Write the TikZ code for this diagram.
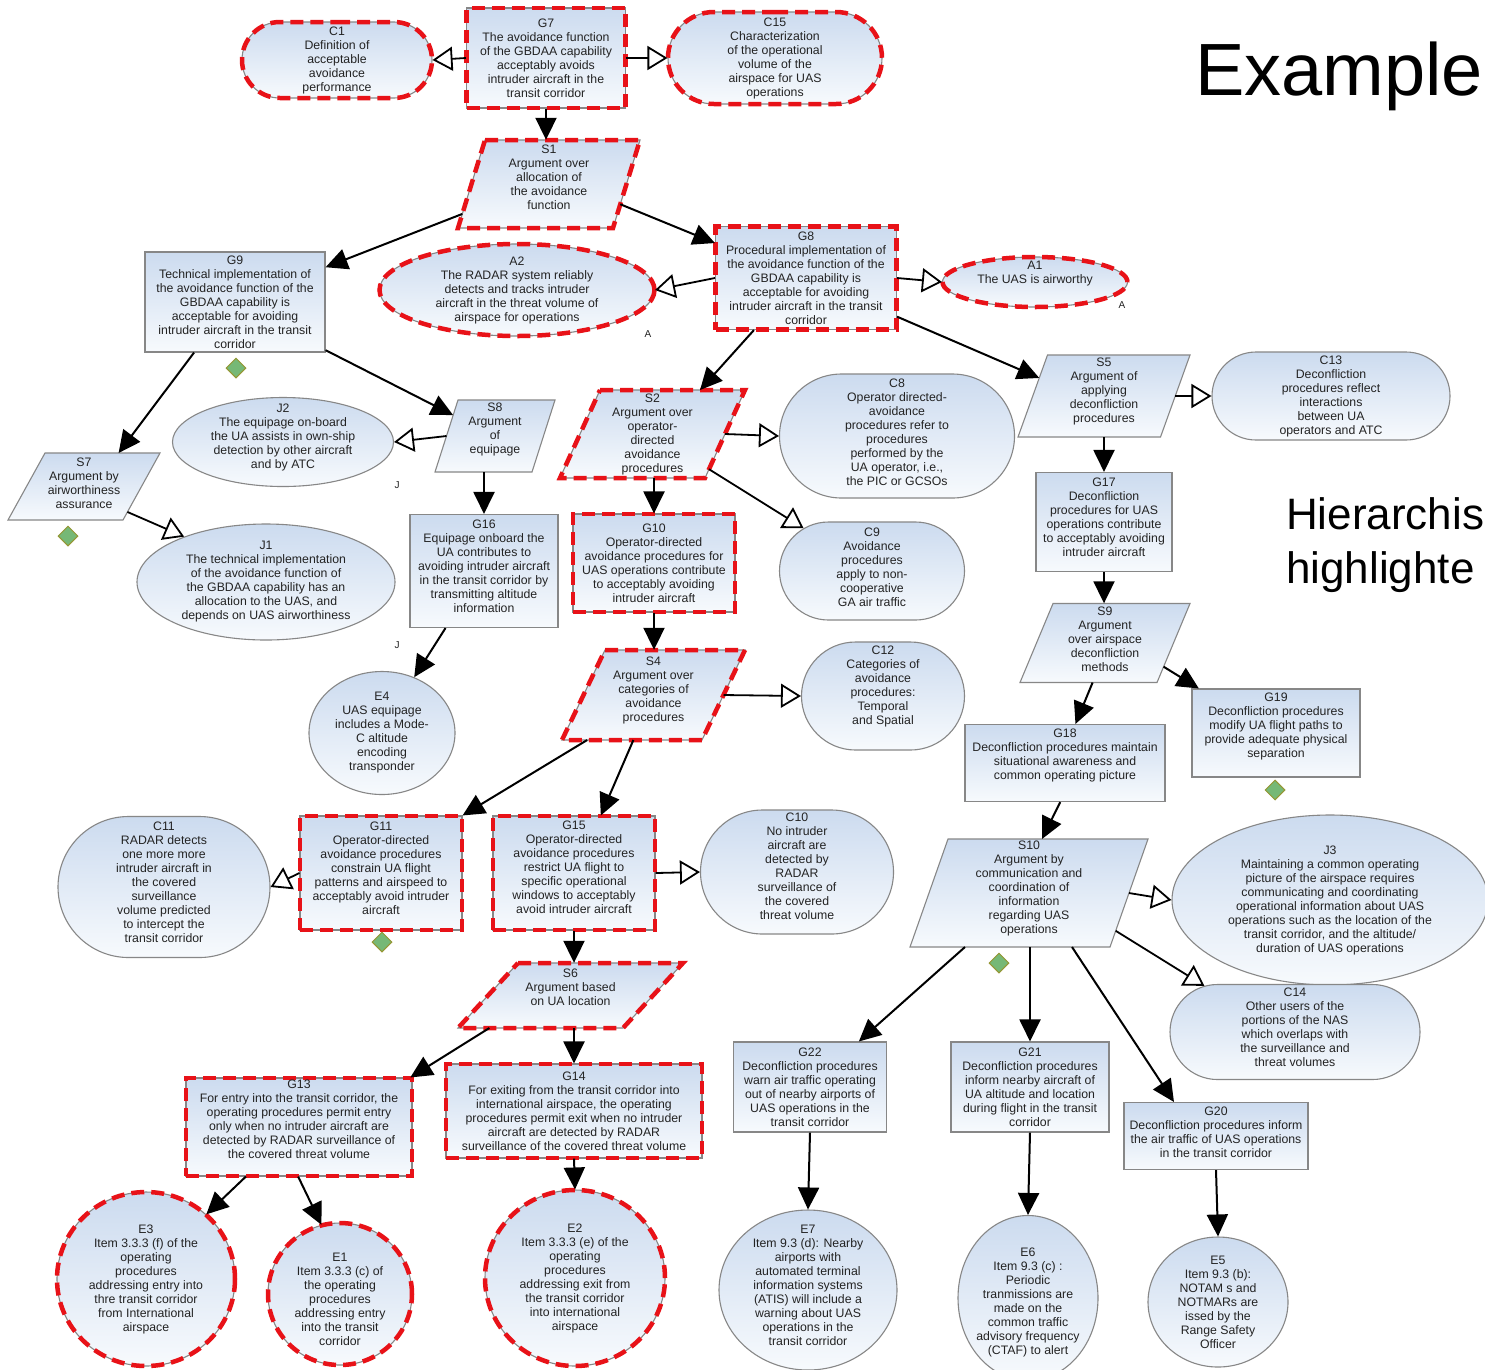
\documentclass[tikz,border=0pt]{standalone}
\usepackage{fontspec}
\setmainfont{Liberation Sans}
\usetikzlibrary{shapes.geometric,shapes.misc,arrows.meta,calc}
\definecolor{hlred}{RGB}{232,18,24}
\definecolor{nodetop}{RGB}{204,219,239}
\definecolor{nodebot}{RGB}{247,250,253}
\definecolor{nodeline}{RGB}{135,135,135}
\definecolor{txtcol}{RGB}{35,35,35}
\definecolor{dfill}{RGB}{118,184,118}
\definecolor{dline}{RGB}{150,150,50}
% shape node (fixed size) + text node; optional arg = upward text shift
\newcommand{\gsnnode}[7][0]{%
  \node[#2, minimum width=#5pt, minimum height=#6pt] (#3) at #4 {};
  \node[txt, yshift=#1pt] (#3t) at (#3) {#7};}
% parallelogram: [up]{style}{name}{x}{y}{w}{h}{slant}{text}
\newcommand{\paranode}[9][5]{%
  \coordinate (#3-tl) at ({#4-#6/2+#8},{#5-#7/2});
  \coordinate (#3-tr) at ({#4+#6/2},{#5-#7/2});
  \coordinate (#3-br) at ({#4+#6/2-#8},{#5+#7/2});
  \coordinate (#3-bl) at ({#4-#6/2},{#5+#7/2});
  \path[base,#2] (#3-tl) -- (#3-tr) -- (#3-br) -- (#3-bl) -- cycle;
  \node[inner sep=0pt, minimum width={#6pt-#8pt}, minimum height=#7pt] (#3) at (#4,#5) {};
  \node[txt, yshift=#1pt] (#3t) at (#3) {#9};}
\begin{document}
\begin{tikzpicture}[x=1pt,y=-1pt,
  txt/.style={align=center, font=\fontsize{12.3}{14}\selectfont, text=txtcol, inner sep=0pt},
  small/.style={font=\fontsize{10}{12}\selectfont, text=txtcol, inner sep=0pt},
  base/.style={draw=nodeline, line width=1.1pt, top color=nodetop, bottom color=nodebot, inner sep=0pt},
  goal/.style={base, rectangle},
  ctx/.style={base, rounded rectangle},
  ell/.style={base, ellipse},
  hl/.style={postaction={draw=hlred, line width=4.5pt, dash pattern=on 13pt off 7pt}},
  undev/.style={diamond, draw=dline, fill=dfill, line width=1pt, minimum size=20pt, inner sep=0pt},
  garrow/.style={-{Triangle[length=22pt,width=21pt]}, line width=2pt},
  carrow/.style={-{Triangle[open,length=20pt,width=24pt]}, line width=1.8pt}]
\useasboundingbox (0,0) rectangle (1485,1369);
\clip (0,0) rectangle (1485,1369);
\fill[white] (0,0) rectangle (1485,1369);

% ---- top
\gsnnode{ctx,hl}{C1}{(337,60)}{190}{76}{C1\\Definition of\\acceptable\\avoidance\\performance}
\gsnnode{goal,hl}{G7}{(546,58)}{159}{100}{G7\\The avoidance function\\of the GBDAA capability\\acceptably avoids\\intruder aircraft in the\\transit corridor}
\gsnnode{ctx,hl}{C15}{(775,58)}{214}{92}{C15\\Characterization\\of the operational\\volume of the\\airspace for UAS\\operations}
\paranode[7]{hl}{S1}{549}{184}{182}{88}{27}{S1\\Argument over\\allocation of\\the avoidance\\function}
\gsnnode{goal}{G9}{(235,302)}{180}{100}{G9\\Technical implementation of\\the avoidance function of the\\GBDAA capability is\\acceptable for avoiding\\intruder aircraft in the transit\\corridor}
\gsnnode{ell,hl}{A2}{(517,290)}{275}{92}{A2\\The RADAR system reliably\\detects and tracks intruder\\aircraft in the threat volume of\\airspace for operations}
\gsnnode{goal,hl}{G8}{(806,278)}{181}{103}{G8\\Procedural implementation of\\the avoidance function of the\\GBDAA capability is\\acceptable for avoiding\\intruder aircraft in the transit\\corridor}
\gsnnode[8]{ell,hl}{A1}{(1035,282)}{185}{50}{A1\\The UAS is airworthy}
\node[small] (lA2) at (648,334) {A};
\node[small] (lA1) at (1122,305) {A};

% ---- middle-left
\paranode[3]{}{S7}{84}{486.5}{152}{67}{37}{S7\\Argument by\\airworthiness\\assurance}
\gsnnode[5]{ell}{J2}{(283,442)}{221}{89}{J2\\The equipage on-board\\the UA assists in own-ship\\detection by other aircraft\\and by ATC}
\paranode[7]{}{S8}{495}{436}{120}{72}{23}{S8\\Argument\\of\\equipage}
\gsnnode{ell}{J1}{(266,582)}{258}{116}{J1\\The technical implementation\\of the avoidance function of\\the GBDAA capability has an\\allocation to the UAS, and\\depends on UAS airworthiness}
\gsnnode[5]{goal}{G16}{(484,571)}{148}{113}{G16\\Equipage onboard the\\UA contributes to\\avoiding intruder aircraft\\in the transit corridor by\\transmitting altitude\\information}
\gsnnode{ell}{E4}{(382,733)}{146}{123}{E4\\UAS equipage\\includes a Mode-\\C altitude\\encoding\\transponder}
\node[small] (lJ2) at (397,485) {J};
\node[small] (lJ1) at (397,645) {J};

% ---- middle
\paranode[0]{hl}{S2}{652.5}{434}{185}{88}{40}{S2\\Argument over\\operator-\\directed\\avoidance\\procedures}
\gsnnode[4]{ctx}{C8}{(897,436)}{235}{124}{C8\\Operator directed-\\avoidance\\procedures refer to\\procedures\\performed by the\\UA operator, i.e.,\\the PIC or GCSOs}
\gsnnode[4]{ctx}{C9}{(872,571)}{185}{98}{C9\\Avoidance\\procedures\\apply to non-\\cooperative\\GA air traffic}
\gsnnode{goal,hl}{G10}{(654,563)}{162}{98}{G10\\Operator-directed\\avoidance procedures for\\UAS operations contribute\\to acceptably avoiding\\intruder aircraft}
\paranode[5]{hl}{S4}{653.5}{695}{183}{90}{43}{S4\\Argument over\\categories of\\avoidance\\procedures}
\gsnnode[10]{ctx}{C12}{(883,696)}{163}{108}{C12\\Categories of\\avoidance\\procedures:\\Temporal\\and Spatial}

% ---- right
\paranode[5]{}{S5}{1104}{396}{172}{82}{29.5}{S5\\Argument of\\applying\\deconfliction\\procedures}
\gsnnode{ctx}{C13}{(1331,396)}{238}{88}{C13\\Deconfliction\\procedures reflect\\interactions\\between UA\\operators and ATC}
\gsnnode[5]{goal}{G17}{(1104,522)}{136}{99}{G17\\Deconfliction\\procedures for UAS\\operations contribute\\to acceptably avoiding\\intruder aircraft}
\paranode[4]{}{S9}{1105}{643}{170}{79}{33}{S9\\Argument\\over airspace\\deconfliction\\methods}
\gsnnode[7]{goal}{G19}{(1276,733)}{168}{88}{G19\\Deconfliction procedures\\modify UA flight paths to\\provide adequate physical\\separation}
\gsnnode[8]{goal}{G18}{(1065,763)}{200}{77}{G18\\Deconfliction procedures maintain\\situational awareness and\\common operating picture}
\paranode[5]{}{S10}{1029}{893}{238}{108}{38}{S10\\Argument by\\communication and\\coordination of\\information\\regarding UAS\\operations}
\gsnnode{ell}{J3}{(1330,900)}{316}{170}{J3\\Maintaining a common operating\\picture of the airspace requires\\communicating and coordinating\\operational information about UAS\\operations such as the location of the\\transit corridor, and the altitude/\\duration of UAS operations}
\gsnnode[5]{ctx}{C14}{(1295,1032)}{250}{95}{C14\\Other users of the\\portions of the NAS\\which overlaps with\\the surveillance and\\threat volumes}

% ---- lower-left
\gsnnode[5]{ctx}{C11}{(164,887)}{212}{141}{C11\\RADAR detects\\one more more\\intruder aircraft in\\the covered\\surveillance\\volume predicted\\to intercept the\\transit corridor}
\gsnnode[5]{goal,hl}{G11}{(381,873)}{162}{114}{G11\\Operator-directed\\avoidance procedures\\constrain UA flight\\patterns and airspeed to\\acceptably avoid intruder\\aircraft}
\gsnnode[6]{goal,hl}{G15}{(574,873)}{162}{114}{G15\\Operator-directed\\avoidance procedures\\restrict UA flight to\\specific operational\\windows to acceptably\\avoid intruder aircraft}
\gsnnode[6]{ctx}{C10}{(797,872)}{193}{124}{C10\\No intruder\\aircraft are\\detected by\\RADAR\\surveillance of\\the covered\\threat volume}
\paranode[8]{hl}{S6}{570.5}{995.5}{225}{65}{60}{S6\\Argument based\\on UA location}
\gsnnode[8]{goal,hl}{G13}{(299,1127)}{226}{98}{G13\\For entry into the transit corridor, the\\operating procedures permit entry\\only when no intruder aircraft are\\detected by RADAR surveillance of\\the covered threat volume}
\gsnnode{goal,hl}{G14}{(574,1111)}{256}{94}{G14\\For exiting from the transit corridor into\\international airspace, the operating\\procedures permit exit when no intruder\\aircraft are detected by RADAR\\surveillance of the covered threat volume}
\gsnnode{ell,hl}{E3}{(146,1279)}{178}{174}{E3\\Item 3.3.3 (f) of the\\operating\\procedures\\addressing entry into\\thre transit corridor\\from International\\airspace}
\gsnnode[-5]{ell,hl}{E1}{(340,1294)}{144}{142}{E1\\Item 3.3.3 (c) of\\the operating\\procedures\\addressing entry\\into the transit\\corridor}
\gsnnode{ell,hl}{E2}{(575,1278)}{180}{176}{E2\\Item 3.3.3 (e) of the\\operating\\procedures\\addressing exit from\\the transit corridor\\into international\\airspace}

% ---- lower-right
\gsnnode{goal}{G22}{(810,1087)}{153}{90}{G22\\Deconfliction procedures\\warn air traffic operating\\out of nearby airports of\\UAS operations in the\\transit corridor}
\gsnnode{goal}{G21}{(1030,1087)}{158}{90}{G21\\Deconfliction procedures\\inform nearby aircraft of\\UA altitude and location\\during flight in the transit\\corridor}
\gsnnode[4]{goal}{G20}{(1216,1136)}{184}{67}{G20\\Deconfliction procedures inform\\the air traffic of UAS operations\\in the transit corridor}
\gsnnode[5]{ell}{E7}{(808,1290)}{178}{160}{E7\\Item 9.3 (d): Nearby\\airports with\\automated terminal\\information systems\\(ATIS) will include a\\warning about UAS\\operations in the\\transit corridor}
\gsnnode[-4]{ell}{E6}{(1028,1298)}{140}{165}{E6\\Item 9.3 (c) :\\Periodic\\tranmissions are\\made on the\\common traffic\\advisory frequency\\(CTAF) to alert}
\gsnnode{ell}{E5}{(1218,1302)}{140}{130}{E5\\Item 9.3 (b):\\NOTAM s and\\NOTMARs are\\issed by the\\Range Safety\\Officer}

% ---- undeveloped diamonds
\node[undev] (D1) at (236,368) {};
\node[undev] (D2) at (68,536) {};
\node[undev] (D3) at (382,942) {};
\node[undev] (D4) at (1275,790) {};
\node[undev] (D5) at (999,963) {};

% ---- titles
\node[anchor=base west, inner sep=0pt, font=\fontsize{74}{80}\selectfont] (title) at (1195,95) {Example};
\node[anchor=base west, inner sep=0pt, font=\fontsize{44}{50}\selectfont] (sub1) at (1286,529) {Hierarchis};
\node[anchor=base west, inner sep=0pt, font=\fontsize{44}{50}\selectfont] (sub2) at (1286,583) {highlighte};

% ---- connectors
\draw[carrow] (G7.west) -- (C1.east);
\draw[carrow] (G7.east) -- (C15.west);
\draw[garrow] (G7.south) -- (G7.south |- S1.north);
\draw[garrow] ($(S1-bl)!0.16!(S1-tl)$) -- (G9.21);
\draw[garrow] ($(S1-br)!0.27!(S1-tr)$) -- (G8.159);
\draw[carrow] (G8.west) -- (A2.east);
\draw[carrow] (G8.east) -- (A1.west);
\draw[garrow] (G8.225) -- ($(S2-tl)!0.69!(S2-tr)$);
\draw[garrow] (G8.337) -- ($(S5-bl)!0.72!(S5-tl)$);
\draw[carrow] ($(S5-br)!0.5!(S5-tr)$) -- (C13.west);
\draw[garrow] (G17.north |- S5.south) -- (G17.north);
\draw[garrow] (G17.south) -- (G17.south |- S9.north);
\draw[garrow] ($(S9-bl)!0.53!(S9-br)$) -- (G18.75);
\draw[garrow] ($(S9-br)!0.2!(S9-tr)$) -- (G19.150);
\draw[garrow] (G18.263) -- ($(S10-tl)!0.47!(S10-tr)$);
\draw[carrow] ($(S10-br)!0.5!(S10-tr)$) -- (J3.west);
\draw[carrow] ($(S10-br)!0.15!(S10-tr)$) -- (C14.153);
\draw[garrow] ($(S10-bl)!0.275!(S10-br)$) -- (G22.43);
\draw[garrow] (G21.north |- S10.south) -- (G21.north);
\draw[garrow] ($(S10-bl)!0.81!(S10-br)$) -- (G20.141);
\draw[garrow] (G22.south) -- (E7.north);
\draw[garrow] (G21.south) -- (E6.north);
\draw[garrow] (G20.south) -- (E5.north);
\draw[garrow] (G9.231) -- ($(S7-tl)!0.64!(S7-tr)$);
\draw[garrow] (G9.332) -- ($(S8-bl)!0.79!(S8-tl)$);
\draw[carrow] ($(S7-br)!0.12!(S7-tr)$) -- (J1.151);
\draw[carrow] ($(S8-bl)!0.5!(S8-tl)$) -- (J2.east);
\draw[garrow] (G16.north |- S8.south) -- (G16.north);
\draw[garrow] (G16.236) -- (E4.60);
\draw[carrow] ($(S2-br)!0.5!(S2-tr)$) -- (C8.west);
\draw[carrow] ($(S2-br)!0.1!(S2-tr)$) -- (C9.148);
\draw[garrow] (G10.north |- S2.south) -- (G10.north);
\draw[garrow] (G10.south) -- (G10.south |- S4.north);
\draw[carrow] ($(S4-br)!0.5!(S4-tr)$) -- (C12.west);
\draw[garrow] ($(S4-bl)!0.18!(S4-br)$) -- (G11.north east);
\draw[garrow] ($(S4-bl)!0.51!(S4-br)$) -- (G15.65);
\draw[carrow] (G11.west) -- (C11.east);
\draw[carrow] (G15.east) -- (C10.west);
\draw[garrow] (G15.south) -- (G15.south |- S6.north);
\draw[garrow] ($(S6-bl)!0.19!(S6-br)$) -- (G13.24);
\draw[garrow] (G14.north |- S6.south) -- (G14.north);
\draw[garrow] (G13.223) -- (E3.47);
\draw[garrow] (G13.269) -- (E1.105);
\draw[garrow] (G14.south) -- (E2.north);
\end{tikzpicture}
\end{document}
